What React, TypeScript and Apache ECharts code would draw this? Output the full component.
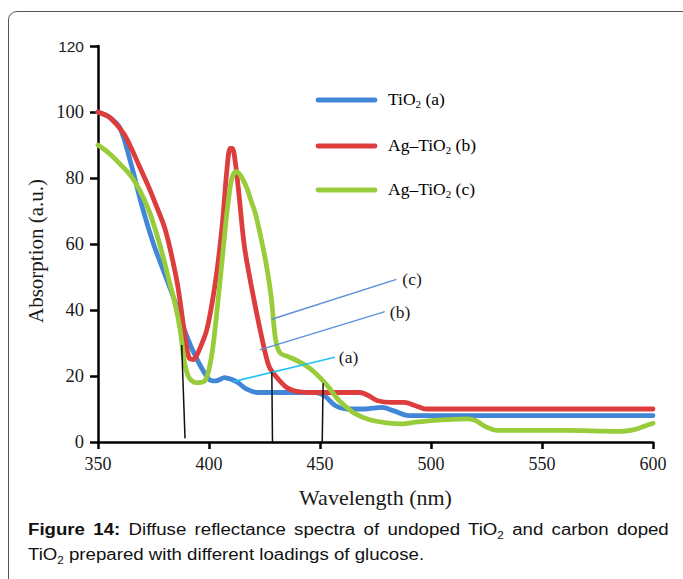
import React, { useEffect, useRef } from "react";
import * as echarts from "echarts";

// ---- data ----
const wlA = [350, 355, 360, 365, 370, 375, 380, 385, 390, 395, 400, 403, 407, 410, 413, 417, 422, 430, 440, 448, 452, 457, 462, 470, 478, 483, 490, 500, 550, 600];
const absA = [100, 98.5, 95, 84, 71, 60, 51, 42, 32, 24.5, 19, 18.5, 19.5, 19, 18, 16, 15, 15, 15, 15, 14, 11, 10, 10, 10.5, 9.5, 8, 8, 8, 8];

const wlB = [350, 355, 358, 362, 365, 369, 373, 376, 380, 383, 386, 389, 391, 393, 395, 399, 403, 406, 408, 409.5, 410.5, 412, 413.5, 416, 420, 424, 427, 430, 435, 440, 450, 460, 468, 472, 476, 482, 488, 493, 498, 550, 600];
const absB = [100, 98.5, 96.5, 93, 89, 83, 77, 72, 65, 57, 47, 33, 25.5, 25, 27, 34, 49, 66, 82, 89, 89, 84, 75, 59, 44, 31, 23, 20, 16.5, 15.3, 15, 15, 15, 14, 12.5, 12, 12, 11, 10, 10, 10];

const wlC = [350, 355, 361, 365, 369, 373, 376, 379, 382, 385, 387, 389, 391, 394, 398, 400, 402, 405, 408, 410, 412, 414, 417, 419, 421, 424, 426, 428, 430, 432, 436, 442, 446, 450, 454, 458, 462, 466, 472, 480, 487, 493, 500, 508, 516, 520, 525, 530, 560, 585, 592, 596, 600];
const absC = [90, 87.5, 83.5, 80.5, 76, 70, 64, 57, 49, 41, 34, 24, 19.5, 18, 18.5, 22, 30, 49, 69, 79, 82, 81, 77, 73, 69, 60, 53, 44, 31, 27, 25.8, 23.8, 22, 19.5, 16.5, 13, 10.5, 8.5, 6.8, 5.8, 5.5, 6, 6.5, 6.8, 7, 6.5, 4.5, 3.5, 3.5, 3.2, 3.8, 4.8, 5.7];

const seriesNames = ["TiO2 (a)", "Ag–TiO2 (b)", "Ag–TiO2 (c)"];
const legendTexts = ["{n|TiO}{s|2}{n| (a)}", "{n|Ag–TiO}{s|2}{n| (b)}", "{n|Ag–TiO}{s|2}{n| (c)}"];
const seriesColors = ["#4286d7", "#de3d3d", "#99cc3a"];

// annotation leader lines (data coordinates)
const leaderA = [[410.9, 18.3], [456.7, 25.7]];
const leaderB = [[422.9, 27.9], [479.2, 39.5]];
const leaderC = [[428.2, 37.2], [484.4, 49.3]];
const leaderLabels = ["(a)", "(b)", "(c)"];
const edge1 = [[387.7, 29.4], [389.2, 1.1]];
const edge2 = [[428.3, 21.3], [428.6, 0]];
const edge3 = [[451.4, 17.8], [451.0, 0]];

const xTicks = { min: 350, max: 600, interval: 50 };
const yTicks = { min: 0, max: 120, interval: 20 };

const pairs = (x: number[], y: number[]) => x.map((v, i) => [v, y[i]]);

const SERIF = "'Liberation Serif', 'Times New Roman', serif";
const SANS = "'Liberation Sans', Arial, sans-serif";

export default function App() {
  const ref = useRef<HTMLDivElement>(null);

  useEffect(() => {
    if (!ref.current) return;
    const chart = echarts.init(ref.current, null, { renderer: "svg" });

    const curve = (i: number, x: number[], y: number[]) => ({
      type: "line",
      name: seriesNames[i],
      data: pairs(x, y),
      smooth: 0.3,
      showSymbol: false,
      symbol: "none",
      silent: true,
      lineStyle: { width: 4.8, color: seriesColors[i], cap: "round", join: "round" },
      z: 3 + i,
    });

    const annot = (data: number[][], color: string, width: number, label?: string, dist = 5) => ({
      type: "line",
      data,
      showSymbol: false,
      symbol: "none",
      silent: true,
      lineStyle: { width, color },
      z: 10,
      endLabel: label
        ? {
            show: true,
            formatter: label,
            distance: dist,
            fontFamily: SERIF,
            fontSize: 17.5,
            color: "#1a1a1a",
          }
        : { show: false },
    });

    const graphics: any[] = [];
    const legendY = [100, 146, 190];
    legendY.forEach((y, i) => {
      graphics.push({
        type: "line",
        shape: { x1: 318, y1: y, x2: 375, y2: y },
        style: { stroke: seriesColors[i], lineWidth: 4.8, lineCap: "round" },
        z: 20,
      });
      graphics.push({
        type: "text",
        x: 388,
        y: y - 1,
        style: {
          text: legendTexts[i],
          verticalAlign: "middle",
          rich: {
            n: { fontFamily: SERIF, fontSize: 17.5, color: "#1a1a1a", lineHeight: 20 },
            s: { fontFamily: SERIF, fontSize: 11, color: "#1a1a1a", lineHeight: 11, verticalAlign: "bottom" },
          },
        },
        z: 20,
      });
    });
    graphics.push({
      type: "text",
      x: 36,
      y: 251,
      rotation: Math.PI / 2,
      style: {
        text: "Absorption (a.u.)",
        fontFamily: SERIF,
        fontSize: 21,
        fill: "#1a1a1a",
        align: "center",
        verticalAlign: "middle",
      },
      z: 20,
    });

    chart.setOption({
      animation: false,
      grid: { left: 98, top: 46, right: 30, bottom: 137, containLabel: false },
      xAxis: {
        type: "value",
        min: xTicks.min,
        max: xTicks.max,
        interval: xTicks.interval,
        name: "Wavelength (nm)",
        nameLocation: "middle",
        nameGap: 44,
        nameTextStyle: { fontFamily: SERIF, fontSize: 22, color: "#1a1a1a" },
        axisLine: { show: true, lineStyle: { color: "#000", width: 2.5 } },
        axisTick: { show: true, inside: false, length: 7, lineStyle: { color: "#000", width: 2.5 } },
        axisLabel: { fontFamily: SERIF, fontSize: 18, color: "#1a1a1a", margin: 13 },
        splitLine: { show: false },
      },
      yAxis: {
        type: "value",
        min: yTicks.min,
        max: yTicks.max,
        interval: yTicks.interval,
        axisLine: { show: true, lineStyle: { color: "#000", width: 2.5 } },
        axisTick: { show: true, inside: false, length: 8, lineStyle: { color: "#000", width: 2.5 } },
        axisLabel: {
          margin: 14,
          formatter: (v: number) => (v === 120 ? `{s|${v}}` : `{r|${v}}`),
          rich: {
            s: { fontFamily: SANS, fontSize: 15.5, color: "#1a1a1a" },
            r: { fontFamily: SERIF, fontSize: 18.5, color: "#1a1a1a" },
          },
        },
        splitLine: { show: false },
      },
      series: [
        curve(0, wlA, absA),
        curve(1, wlB, absB),
        curve(2, wlC, absC),
        annot(leaderA, "#22c3f2", 1.6, leaderLabels[0], 4),
        annot(leaderB, "#5b8fd8", 1.4, leaderLabels[1], 5),
        annot(leaderC, "#5b8fd8", 1.4, leaderLabels[2], 6),
        annot(edge1, "#111", 1.5),
        annot(edge2, "#111", 1.5),
        annot(edge3, "#111", 1.5),
      ],
      graphic: graphics,
    });

    return () => chart.dispose();
  }, []);

  const sub = { fontSize: 10, position: "relative" as const, top: 4 };

  return (
    <div style={{ position: "fixed", left: 0, top: 0, width: 683, height: 579, overflow: "hidden", background: "#fff" }}>
      <div
        style={{
          position: "absolute",
          left: 8,
          top: 11,
          width: 720,
          height: 640,
          border: "1px solid #555",
          borderRadius: 9,
          boxSizing: "border-box",
        }}
      />
      <div ref={ref} style={{ position: "absolute", left: 0, top: 0, width: 683, height: 579 }} />
      <div
        style={{
          position: "absolute",
          left: 28,
          top: 518,
          width: 550,
          transform: "scaleX(1.165)",
          transformOrigin: "0 0",
          fontFamily: SANS,
          fontSize: 16,
          lineHeight: "23px",
          color: "#111",
        }}
      >
        <div style={{ textAlign: "justify", textAlignLast: "justify" as any }}>
          <b>Figure 14:</b> Diffuse reflectance spectra of undoped TiO<span style={sub}>2</span> and carbon doped
        </div>
        <div>
          TiO<span style={sub}>2</span> prepared with different loadings of glucose.
        </div>
      </div>
    </div>
  );
}
